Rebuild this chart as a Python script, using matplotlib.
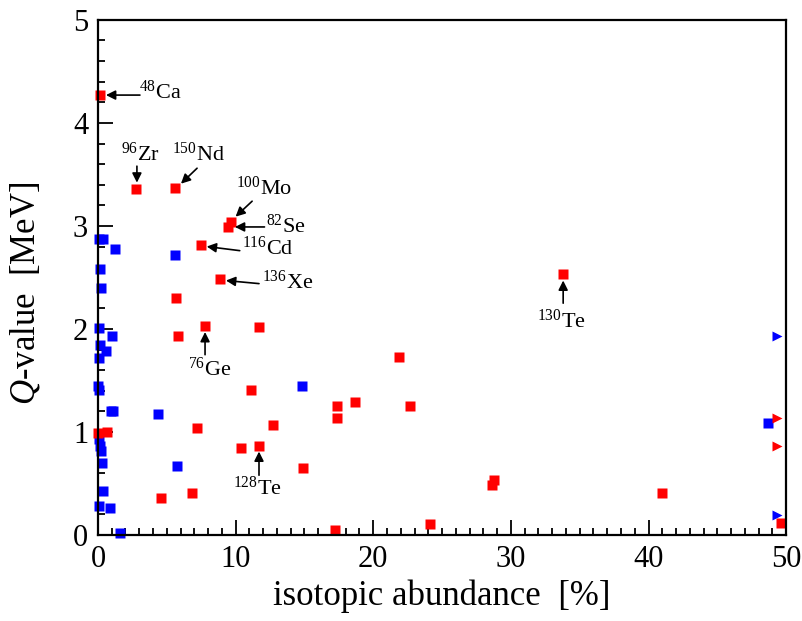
import numpy as np
import matplotlib
matplotlib.use('Agg')
import matplotlib.pyplot as plt
from matplotlib.ticker import MultipleLocator

plt.rcParams['font.family'] = ['Liberation Serif', 'DejaVu Serif']
plt.rcParams['mathtext.fontset'] = 'custom'
plt.rcParams['mathtext.rm'] = 'Liberation Serif'
plt.rcParams['mathtext.it'] = 'Liberation Serif:italic'

# ── data: double-beta candidates (red) and others (blue) ──
red_abund = [0.15, 2.76, 5.6, 9.7, 9.45, 7.5, 8.87, 7.78, 5.67, 5.81, 11.7, 33.8,
             21.9, 22.7, 18.7, 17.35, 17.4, 14.9, 28.75, 28.6, 41.0, 24.15, 17.2,
             11.1, 7.2, 12.7, 10.4, 11.7, 4.6, 6.8, 0.0, 0.63, 49.66]
red_q = [4.27, 3.36, 3.37, 3.04, 2.99, 2.81, 2.48, 2.03, 2.30, 1.93, 2.02, 2.53,
         1.73, 1.25, 1.29, 1.25, 1.14, 0.65, 0.53, 0.49, 0.41, 0.11, 0.045,
         1.41, 1.04, 1.07, 0.84, 0.86, 0.36, 0.41, 0.99, 1.00, 0.12]

blue_abund = [0.1, 0.39, 1.26, 5.6, 0.15, 0.22, 0.07, 1.0, 0.15, 0.58, 0.1, 0.0,
              0.1, 0.92, 1.07, 4.34, 0.07, 0.15, 0.22, 0.27, 5.72, 0.39, 0.1,
              0.87, 1.62, 14.85, 48.65]
blue_q = [2.87, 2.87, 2.78, 2.72, 2.58, 2.40, 2.01, 1.93, 1.84, 1.79, 1.72, 1.45,
          1.41, 1.20, 1.20, 1.17, 0.93, 0.86, 0.82, 0.70, 0.67, 0.43, 0.28,
          0.26, 0.02, 1.45, 1.09]

# off-scale abundances (>50 %) drawn as arrows at the right edge
red_off_q = [1.14, 0.86]
blue_off_q = [1.93, 0.19]
off_x = 49.35

# labelled isotopes: (label, point, arrow tail, text pos, ha)
labels = [
    (r'$^{48}$Ca',  (0.58, 4.27), (3.05, 4.27), (3.0, 4.30), 'left'),
    (r'$^{96}$Zr',  (2.83, 3.42), (2.83, 3.58), (3.1, 3.70), 'center'),
    (r'$^{150}$Nd', (6.03, 3.41), (7.2, 3.56),  (7.3, 3.70), 'center'),
    (r'$^{100}$Mo', (10.0, 3.09), (11.2, 3.24), (12.1, 3.37), 'center'),
    (r'$^{82}$Se',  (9.95, 2.99), (12.1, 2.99), (12.2, 3.0), 'left'),
    (r'$^{116}$Cd', (7.9, 2.80),  (10.3, 2.76), (10.5, 2.78), 'left'),
    (r'$^{136}$Xe', (9.3, 2.47),  (11.7, 2.44), (11.9, 2.45), 'left'),
    (r'$^{76}$Ge',  (7.78, 1.97), (7.78, 1.75), (8.1, 1.61), 'center'),
    (r'$^{130}$Te', (33.8, 2.47), (33.8, 2.25), (33.65, 2.08), 'center'),
    (r'$^{128}$Te', (11.7, 0.81), (11.7, 0.58), (11.55, 0.45), 'center'),
]

fig = plt.figure(figsize=(8.03, 6.21), dpi=100)
ax = fig.add_axes([0.122, 0.1385, 0.857, 0.8295])

ms = 6.5
ax.plot(blue_abund, blue_q, 's', color='#0000ff', ms=ms, mec='none', clip_on=False)
ax.plot(red_abund, red_q, 's', color='#ff0000', ms=ms, mec='none', clip_on=False)
ax.plot([off_x] * len(blue_off_q), blue_off_q, '>', color='#0000ff', ms=7, mec='none', clip_on=False)
ax.plot([off_x] * len(red_off_q), red_off_q, '>', color='#ff0000', ms=7, mec='none', clip_on=False)

for text, head, tail, tpos, ha in labels:
    ax.annotate('', xy=head, xytext=tail,
                arrowprops=dict(arrowstyle='-|>', color='k', lw=1.2,
                                mutation_scale=14, shrinkA=0, shrinkB=0))
    ax.text(tpos[0], tpos[1], text, fontsize=16, ha=ha, va='center')

ax.set_xlim(0, 50)
ax.set_ylim(0, 5)
ax.xaxis.set_major_locator(MultipleLocator(10))
ax.xaxis.set_minor_locator(MultipleLocator(1))
ax.yaxis.set_major_locator(MultipleLocator(1))
ax.yaxis.set_minor_locator(MultipleLocator(0.2))
ax.tick_params(which='both', direction='in', top=False, right=False,
               width=1.3, labelsize=22)
ax.tick_params(which='major', length=11, pad=7)
ax.tick_params(which='minor', length=5)
for sp in ax.spines.values():
    sp.set_linewidth(1.6)

ax.set_xlabel('isotopic abundance  [%]', fontsize=25, labelpad=4)
ax.set_ylabel(r'$Q$-value  [MeV]', fontsize=25)
ax.yaxis.set_label_coords(-0.08, 0.47)

fig.savefig('out.png', dpi=100)
